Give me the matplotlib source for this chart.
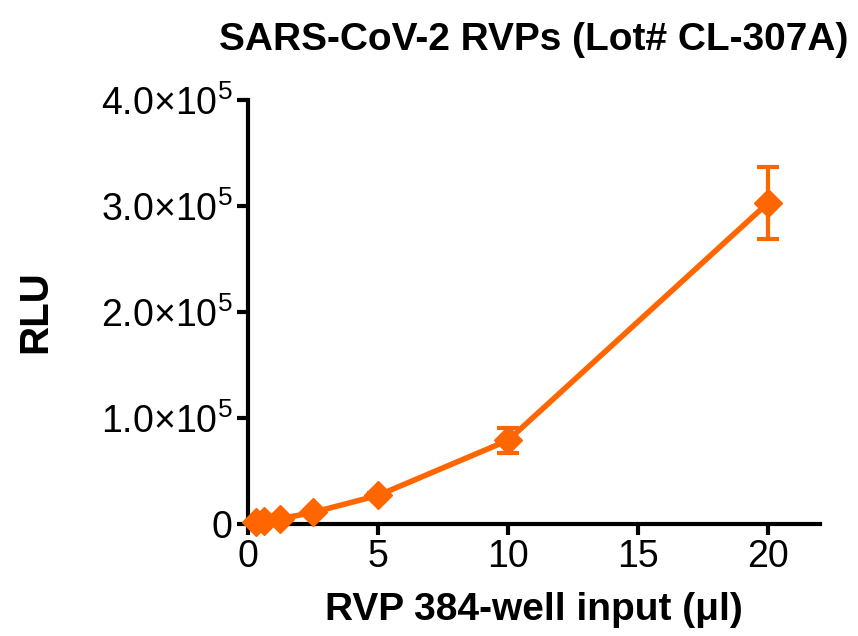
import matplotlib
matplotlib.use("Agg")
import matplotlib.pyplot as plt
from matplotlib.ticker import FuncFormatter

plt.rcParams['font.family'] = ['Liberation Sans', 'DejaVu Sans']
plt.rcParams['mathtext.fontset'] = 'custom'
plt.rcParams['mathtext.rm'] = 'Liberation Sans'

rvp_input = [0.3125, 0.625, 1.25, 2.5, 5, 10, 20]
rlu = [2000, 3000, 5000, 11000, 27000, 79000, 303000]
rlu_err = [500, 500, 800, 1500, 2500, 12000, 34000]

orange = '#FF6600'

fig = plt.figure(figsize=(8.58, 6.36), dpi=100)
ax = fig.add_axes([0.289, 0.176, 0.667, 0.667])

ax.errorbar(rvp_input, rlu, yerr=rlu_err, color=orange, marker='D',
            markersize=14, linewidth=4, elinewidth=3, capsize=8,
            capthick=3, clip_on=False, zorder=3)

ax.set_xlim(0, 22)
ax.set_ylim(0, 4e5)
ax.set_xticks([0, 5, 10, 15, 20])
ax.set_yticks([0, 1e5, 2e5, 3e5, 4e5])


def sci(v, pos):
    if v == 0:
        return '0'
    return f'{v / 1e5:.1f}×10$^{{\\mathrm{{5}}}}$'


ax.yaxis.set_major_formatter(FuncFormatter(sci))

for s in ['top', 'right']:
    ax.spines[s].set_visible(False)
for s in ['left', 'bottom']:
    ax.spines[s].set_linewidth(3)
ax.tick_params(width=3, length=8, labelsize=27, pad=3)

ax.set_xlabel('RVP 384-well input (μl)', fontsize=28, fontweight='bold',
              labelpad=12)
ax.set_ylabel('RLU', fontsize=29, fontweight='bold', labelpad=34)
ax.set_title('SARS-CoV-2 RVPs (Lot# CL-307A)', fontsize=28,
             fontweight='bold', pad=36)

fig.savefig('out.png', dpi=100)
